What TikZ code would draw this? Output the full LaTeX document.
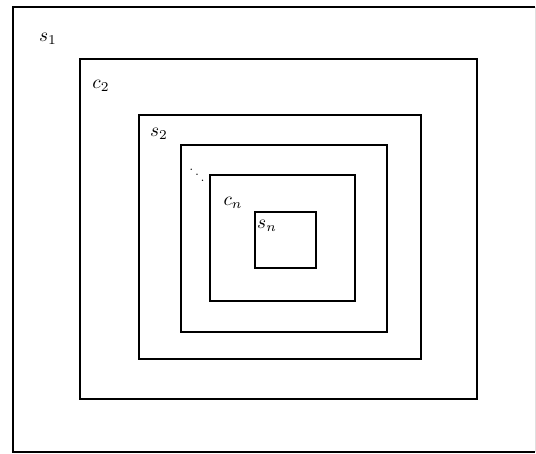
\documentclass[tikz,border=0pt]{standalone}
\usepackage{amsmath,amssymb}
\usetikzlibrary{positioning}

\begin{document}
\begin{tikzpicture}[x=0.02cm,y=-0.02cm,
    box/.style={line width=1.1pt},
    lab/.style={inner sep=0pt,scale=1.1}]
    \useasboundingbox (0,0) rectangle (536,453);
    % --- nested boxes, outside in ---
    \draw[line width=0.9pt] (535,7) -- (13,7) -- (13,452) -- (535,452);
    \draw[gray!25,line width=0.4pt] (535,7) -- (535,452);
    \draw[box] (80,59) rectangle (477,399);
    \draw[box] (139,115) rectangle (421,359);
    \draw[box] (181,145) rectangle (387,332);
    \draw[box] (210,175) rectangle (355,301);
    \draw[box] (255,212) rectangle (316,268);
    % labels
    \node[lab] (s1) at (48,39) {$s_1$};
    \node[lab] (c2) at (101,86) {$c_2$};
    \node[lab] (s2) at (159,134) {$s_2$};
    \node[inner sep=0pt] (dd) at (197,170) {\scriptsize$\ddots$};
    \node[lab] (cn) at (233,203) {$c_n$};
    \node[lab] (sn) at (267,226) {$s_n$};
\end{tikzpicture}
\end{document}
